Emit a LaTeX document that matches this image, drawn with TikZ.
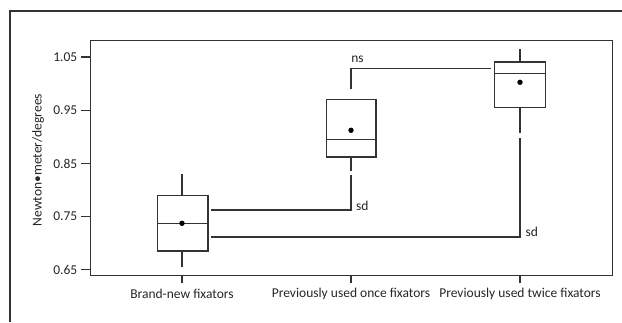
\documentclass[tikz,border=0pt]{standalone}
\usepackage{fontspec}
\setmainfont{Carlito}
\begin{document}
\begin{tikzpicture}[x=1pt,y=-1pt,
  ln/.style={draw=black!80,line width=1.1pt},
  lbl/.style={font=\fontsize{13.5}{15}\selectfont,text=black!85,inner sep=0pt},
  meandot/.style={fill=black,draw=none}]
\useasboundingbox (0,0) rectangle (622,322);
% outer frame
\draw[ln] (10,322) -- (10,11) -- (622,11);
% plot box
\draw[ln] (90.7,40.3) rectangle (612.3,275.3);
% y ticks
\foreach \v/\y in {1.05/57,0.95/110.3,0.85/163.7,0.75/216.3,0.65/269.7}{
  \draw[ln] (81,\y) -- (90.7,\y);
  \node[lbl,anchor=east] (t\v) at (77.5,\y) {\v};
}
\node[lbl,rotate=90] (ylab) at (38,160) {Newton•meter/degrees};
% x ticks and labels
\foreach \x/\t/\n in {182/Brand-new fixators/a,351/Previously used once fixators/b,520/Previously used twice fixators/c}{
  \draw[ln] (\x,275.3) -- (\x,283);
  \node[lbl] (x\n) at (\x,294) {\t};
}
% box 1
\draw[ln] (182,174.3) -- (182,195.7);
\draw[ln] (182,251) -- (182,266.7);
\draw[ln] (157.3,195.7) rectangle (208,251);
\draw[ln] (157.3,223.3) -- (208,223.3);
\fill[meandot] (182,223.3) circle (2.7);
% box 2
\draw[ln] (351,157) -- (351,170.7);
\draw[ln] (326.3,99.3) rectangle (376,157);
\draw[ln] (326.3,139.7) -- (376,139.7);
\fill[meandot] (351,130.3) circle (2.7);
% box 3
\draw[ln] (520,49.3) -- (520,62);
\draw[ln] (520,107.3) -- (520,132.7);
\draw[ln] (494.3,62) rectangle (545.7,107.3);
\draw[ln] (494.3,73.3) -- (545.7,73.3);
\fill[meandot] (520,82.3) circle (2.7);
% brackets
\coordinate (ns1) at (351,89.3);
\coordinate (ns2) at (490.7,68.3);
\draw[ln] (ns1) |- (ns2);
\node[lbl] (nsl) at (357.5,59.5) {ns};
\coordinate (sa1) at (211,210);
\coordinate (sa2) at (351,175);
\draw[ln] (sa1) -| (sa2);
\node[lbl,anchor=west] (sdl1) at (356,206) {sd};
\coordinate (sb1) at (211,237);
\coordinate (sb2) at (520,137.7);
\draw[ln] (sb1) -| (sb2);
\node[lbl,anchor=west] (sdl2) at (525.5,231.5) {sd};
\end{tikzpicture}
\end{document}
